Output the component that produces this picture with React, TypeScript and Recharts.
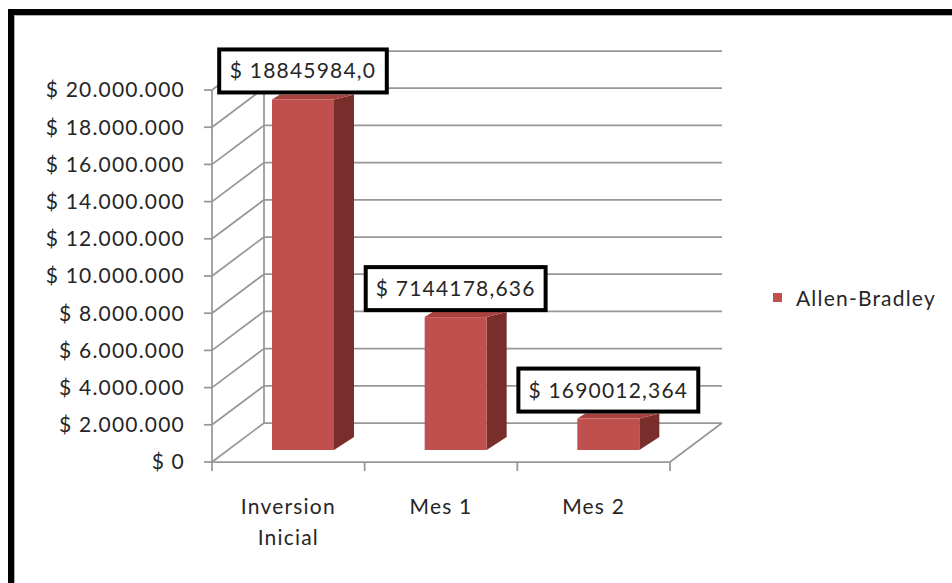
import { BarChart, Bar, XAxis, YAxis, CartesianGrid, LabelList, Legend } from 'recharts';

const categories = ['Inversion Inicial', 'Mes 1', 'Mes 2'];
const allenBradley = [18845984.0, 7144178.636, 1690012.364];
const valueLabels = ['$ 18845984,0', '$ 7144178,636', '$ 1690012,364'];
const yTicks = [0, 2000000, 4000000, 6000000, 8000000, 10000000, 12000000, 14000000, 16000000, 18000000, 20000000];

const data = categories.map((name, i) => ({ name, value: allenBradley[i], label: valueLabels[i] }));

const W = 952;
const H = 583;
const X_AXIS_H = 121;
const MARGIN = { top: 90, right: 282, bottom: 0, left: 12 };
const PLOT_TOP = MARGIN.top;
const PLOT_BOTTOM = H - MARGIN.bottom - X_AXIS_H;

// depth of the 3d box (back wall offset)
const DX = 52;
const DY = -39;
// bar front face offset inside the box + bar depth
const OX = 15;
const OY = -12;
const SIDE_W = 20;
const SIDE_TOP = -5;
const SIDE_BOT = -13;

const FONT = 'Lato, "Open Sans", sans-serif';
const TEXT = '#262626';
const GRID = '#979797';
const FRONT = '#C0504D';
const SIDE = '#7A2E2C';
const TOP = '#A9423F';

const money = (v: number) => '$ ' + String(Math.round(v)).replace(/\B(?=(\d{3})+(?!\d))/g, '.');

const gridLine = (p: any) => {
  const { x1, x2, y1 } = p;
  const bx1 = x1 + DX;
  const bx2 = x2 + DX;
  const by = y1 + DY;
  const isFloor = Math.abs(y1 - PLOT_BOTTOM) < 0.5;
  const isTop = Math.abs(y1 - PLOT_TOP) < 0.5;
  return (
    <g key={p.key} stroke={GRID} strokeWidth={1.75} fill='none'>
      <line x1={x1} y1={y1} x2={bx1} y2={by} />
      <line x1={bx1} y1={by} x2={bx2} y2={by} />
      {isFloor && <line x1={x2} y1={y1} x2={bx2} y2={by} />}
      {isTop && <line x1={bx1} y1={by} x2={bx1} y2={PLOT_BOTTOM + DY} />}
    </g>
  );
};

const Bar3D = (p: any) => {
  const x = p.x + OX;
  const y = p.y + OY;
  const b = p.y + p.height + OY;
  const r = x + p.width;
  return (
    <g>
      <polygon
        points={`${r},${y} ${r + SIDE_W},${y + SIDE_TOP} ${r + SIDE_W},${b + SIDE_BOT} ${r},${b}`}
        fill={SIDE}
      />
      <polygon
        points={`${x},${y} ${r},${y} ${r + SIDE_W},${y + SIDE_TOP} ${x + 8},${y + SIDE_TOP}`}
        fill={TOP}
      />
      <rect x={x} y={y} width={p.width} height={b - y} fill={FRONT} />
    </g>
  );
};

const BoxLabel = (p: any) => {
  const text = String(p.value);
  const w = text.length * 12.3 + 20;
  const h = 43;
  const cx = p.x + OX + p.width / 2;
  const bottom = p.y + OY - 7;
  return (
    <g>
      <rect x={cx - w / 2} y={bottom - h} width={w} height={h} fill='#fff' stroke='#000' strokeWidth={4} />
      <text
        x={cx}
        y={bottom - h / 2 + 7.5}
        textAnchor='middle'
        fill={TEXT}
        fontSize={21}
        fontFamily={FONT}
        style={{ letterSpacing: 1.2 }}
      >
        {text}
      </text>
    </g>
  );
};

const CategoryTick = (p: any) => {
  const label = String(p.payload.value);
  const lines = label.length > 10 ? label.split(' ') : [label];
  const half = p.payload.offset ?? (W - MARGIN.left - 200 - MARGIN.right) / categories.length / 2;
  const isLast = p.index === categories.length - 1;
  return (
    <g>
      <line x1={p.x - half} y1={PLOT_BOTTOM} x2={p.x - half} y2={PLOT_BOTTOM + 9} stroke={GRID} strokeWidth={1.75} />
      {isLast && (
        <line x1={p.x + half} y1={PLOT_BOTTOM} x2={p.x + half} y2={PLOT_BOTTOM + 9} stroke={GRID} strokeWidth={1.75} />
      )}
      {lines.map((t, i) => (
        <text
          key={i}
          x={p.x}
          y={PLOT_BOTTOM + 52 + i * 31}
          textAnchor='middle'
          fill={TEXT}
          fontSize={21}
          fontFamily={FONT}
          style={{ letterSpacing: 1.2 }}
        >
          {t}
        </text>
      ))}
    </g>
  );
};

const LegendBox = (p: any) => {
  const item = p.payload?.[0];
  return (
    <div style={{ display: 'flex', alignItems: 'center', fontFamily: FONT, fontSize: 21, color: TEXT, letterSpacing: 1.2 }}>
      <span style={{ width: 9, height: 9, background: item?.color ?? FRONT, marginRight: 14, display: 'inline-block' }} />
      <span>{item?.value ?? 'Allen-Bradley'}</span>
    </div>
  );
};

export default function App() {
  return (
    <div style={{ position: 'fixed', left: 0, top: 0, width: W, height: H, overflow: 'hidden', background: '#fff' }}>
      <div
        style={{
          position: 'absolute',
          left: 8,
          top: 9,
          width: 1000,
          height: 700,
          border: '6px solid #000',
          boxShadow: 'inset 1px 1px 0 #b0b0b0',
        }}
      />
      <div style={{ position: 'absolute', left: 0, top: 0 }}>
        <BarChart width={W} height={H} data={data} margin={MARGIN}>
          <CartesianGrid vertical={false} horizontal={gridLine} />
          <XAxis
            dataKey='name'
            height={X_AXIS_H}
            interval={0}
            tickLine={false}
            axisLine={{ stroke: GRID, strokeWidth: 1.75 }}
            tick={<CategoryTick />}
          />
          <YAxis
            width={200}
            domain={[0, 20000000]}
            ticks={yTicks}
            interval={0}
            tickFormatter={money}
            tickSize={8}
            tickMargin={19}
            axisLine={{ stroke: GRID, strokeWidth: 1.75 }}
            tickLine={{ stroke: GRID, strokeWidth: 1.75 }}
            tick={{ fill: TEXT, fontSize: 21, fontFamily: FONT, style: { letterSpacing: 1.2 } }}
          />
          <Legend
            layout='vertical'
            align='center'
            verticalAlign='middle'
            content={<LegendBox />}
            wrapperStyle={{ left: 773, top: 285, width: 175 }}
          />
          <Bar
            dataKey='value'
            name='Allen-Bradley'
            fill={FRONT}
            barSize={62}
            shape={<Bar3D />}
            isAnimationActive={false}
          >
            <LabelList dataKey='label' content={<BoxLabel />} />
          </Bar>
        </BarChart>
      </div>
    </div>
  );
}
